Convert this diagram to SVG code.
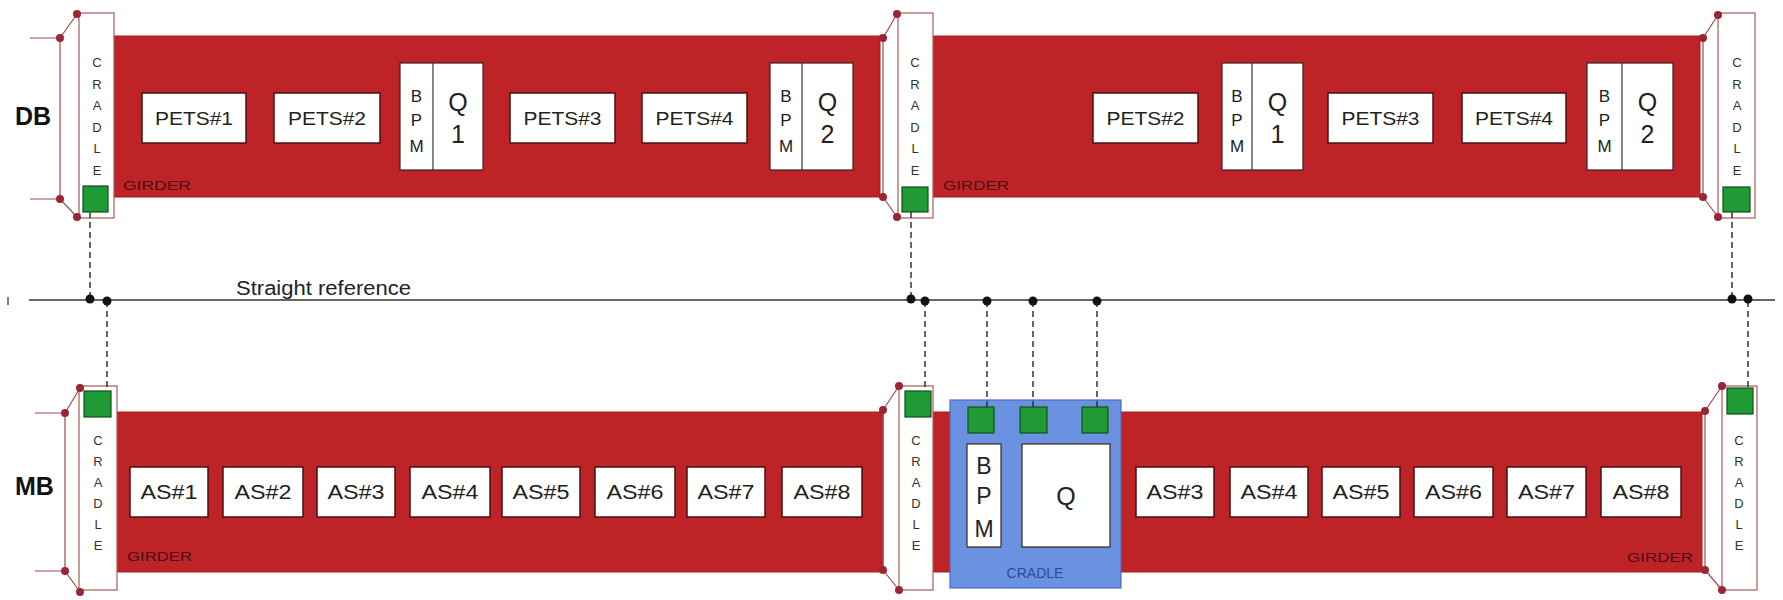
<svg xmlns="http://www.w3.org/2000/svg" width="1783" height="600" viewBox="0 0 1783 600">
<style>
.girder{fill:#be2327;stroke:#a81c20;stroke-width:1}
.cradle{fill:#ffffff;stroke:#a85a5a;stroke-width:1.2}
.box{fill:#ffffff;stroke:#4a1212;stroke-width:1.5}
.bq{fill:#ffffff;stroke:#3a2020;stroke-width:1.2}
.gs{fill:#1f9a35;stroke:#0c5418;stroke-width:1.2}
.sup{fill:none;stroke:#a04a55;stroke-width:1.2}
.dot{fill:#9a2535}
.rdot{fill:#111111}
.dash{fill:none;stroke:#333333;stroke-width:1.5;stroke-dasharray:6 4}
.lbl{font-family:"Liberation Sans",Arial,sans-serif;fill:#222222;text-anchor:middle}
.cl{font-family:"Liberation Sans",Arial,sans-serif;font-size:13px;fill:#333333;text-anchor:middle}
.gt{font-family:"Liberation Sans",Arial,sans-serif;font-size:13px;fill:#4a1010}
.big{font-family:"Liberation Sans",Arial,sans-serif;font-size:25px;font-weight:bold;fill:#111111}
</style>
<rect width="1783" height="600" fill="#ffffff"/>

<!-- Straight reference -->
<g id="reference">
<line x1="29" y1="300" x2="1775" y2="300" stroke="#333" stroke-width="1.6"/>
<line x1="8" y1="297" x2="8" y2="305" stroke="#555" stroke-width="1.5"/>
<text x="236" y="295" class="lbl" style="text-anchor:start;font-size:20px" textLength="175" lengthAdjust="spacingAndGlyphs">Straight reference</text>
</g>

<!-- DB row -->
<g id="db-label"><text x="15" y="125" class="big">DB</text></g>
<g id="mb-label"><text x="15" y="495" class="big">MB</text></g>

<g id="db-girder-1">
<rect class="girder" x="114" y="36" width="766" height="161"/>
<text class="gt" x="123" y="190" textLength="68" lengthAdjust="spacingAndGlyphs">GIRDER</text>
</g>
<g id="db-girder-2">
<rect class="girder" x="933" y="36" width="767" height="161"/>
<text class="gt" x="943" y="190" textLength="66" lengthAdjust="spacingAndGlyphs">GIRDER</text>
</g>

<g id="db-cradle-left">
<path class="sup" d="M30 38H60L77 14M60 38V199M30 199H60L77 217"/>
<rect class="cradle" x="79" y="13" width="35" height="205"/>
<rect class="gs" x="83" y="186" width="25" height="26"/>
<circle class="dot" cx="60" cy="38" r="4"/><circle class="dot" cx="77" cy="14" r="4"/>
<circle class="dot" cx="60" cy="199" r="4"/><circle class="dot" cx="77" cy="217" r="4"/>
<text class="cl" x="97" y="67">C</text><text class="cl" x="97" y="88.5">R</text><text class="cl" x="97" y="110">A</text><text class="cl" x="97" y="131.5">D</text><text class="cl" x="97" y="153">L</text><text class="cl" x="97" y="175">E</text>
</g>
<g id="db-cradle-mid">
<path class="sup" d="M883 38L897 14M883 38V197M883 197L897 217"/>
<rect class="cradle" x="898" y="13" width="35" height="205"/>
<rect class="gs" x="902" y="187" width="26" height="25"/>
<circle class="dot" cx="883" cy="38" r="4"/><circle class="dot" cx="897" cy="14" r="4"/>
<circle class="dot" cx="883" cy="197" r="4"/><circle class="dot" cx="897" cy="217" r="4"/>
<text class="cl" x="915" y="67">C</text><text class="cl" x="915" y="88.5">R</text><text class="cl" x="915" y="110">A</text><text class="cl" x="915" y="131.5">D</text><text class="cl" x="915" y="153">L</text><text class="cl" x="915" y="175">E</text>
</g>
<g id="db-cradle-right">
<path class="sup" d="M1703 38L1718 15M1703 38V197M1703 197L1718 217"/>
<rect class="cradle" x="1718" y="13" width="37" height="205"/>
<rect class="gs" x="1723" y="187" width="27" height="25"/>
<circle class="dot" cx="1703" cy="38" r="4"/><circle class="dot" cx="1718" cy="15" r="4"/>
<circle class="dot" cx="1703" cy="197" r="4"/><circle class="dot" cx="1718" cy="217" r="4"/>
<text class="cl" x="1737" y="67">C</text><text class="cl" x="1737" y="88.5">R</text><text class="cl" x="1737" y="110">A</text><text class="cl" x="1737" y="131.5">D</text><text class="cl" x="1737" y="153">L</text><text class="cl" x="1737" y="175">E</text>
</g>

<g id="db-pets1"><rect class="box" x="142" y="93" width="104" height="50"/><text class="lbl" x="194" y="125" style="font-size:19px" textLength="78" lengthAdjust="spacingAndGlyphs">PETS#1</text></g>
<g id="db-pets2a"><rect class="box" x="274" y="93" width="106" height="50"/><text class="lbl" x="327" y="125" style="font-size:19px" textLength="78" lengthAdjust="spacingAndGlyphs">PETS#2</text></g>
<g id="db-bpmq1a"><rect class="bq" x="400" y="63" width="83" height="107"/><line x1="433" y1="63" x2="433" y2="170" stroke="#333" stroke-width="1.2"/>
<text class="lbl" x="416.5" y="102" style="font-size:17px">B</text><text class="lbl" x="416.5" y="126" style="font-size:17px">P</text><text class="lbl" x="416.5" y="152" style="font-size:17px">M</text>
<text class="lbl" x="458" y="111" style="font-size:25px">Q</text><text class="lbl" x="458" y="143" style="font-size:25px">1</text></g>
<g id="db-pets3a"><rect class="box" x="510" y="93" width="105" height="50"/><text class="lbl" x="562.5" y="125" style="font-size:19px" textLength="78" lengthAdjust="spacingAndGlyphs">PETS#3</text></g>
<g id="db-pets4a"><rect class="box" x="642" y="93" width="105" height="50"/><text class="lbl" x="694.5" y="125" style="font-size:19px" textLength="78" lengthAdjust="spacingAndGlyphs">PETS#4</text></g>
<g id="db-bpmq2a"><rect class="bq" x="770" y="63" width="83" height="107"/><line x1="802" y1="63" x2="802" y2="170" stroke="#333" stroke-width="1.2"/>
<text class="lbl" x="786" y="102" style="font-size:17px">B</text><text class="lbl" x="786" y="126" style="font-size:17px">P</text><text class="lbl" x="786" y="152" style="font-size:17px">M</text>
<text class="lbl" x="827.5" y="111" style="font-size:25px">Q</text><text class="lbl" x="827.5" y="143" style="font-size:25px">2</text></g>

<g id="db-pets2b"><rect class="box" x="1093" y="93" width="105" height="50"/><text class="lbl" x="1145.5" y="125" style="font-size:19px" textLength="78" lengthAdjust="spacingAndGlyphs">PETS#2</text></g>
<g id="db-bpmq1b"><rect class="bq" x="1222" y="63" width="81" height="107"/><line x1="1252" y1="63" x2="1252" y2="170" stroke="#333" stroke-width="1.2"/>
<text class="lbl" x="1237" y="102" style="font-size:17px">B</text><text class="lbl" x="1237" y="126" style="font-size:17px">P</text><text class="lbl" x="1237" y="152" style="font-size:17px">M</text>
<text class="lbl" x="1277.5" y="111" style="font-size:25px">Q</text><text class="lbl" x="1277.5" y="143" style="font-size:25px">1</text></g>
<g id="db-pets3b"><rect class="box" x="1328" y="93" width="105" height="50"/><text class="lbl" x="1380.5" y="125" style="font-size:19px" textLength="78" lengthAdjust="spacingAndGlyphs">PETS#3</text></g>
<g id="db-pets4b"><rect class="box" x="1462" y="93" width="104" height="50"/><text class="lbl" x="1514" y="125" style="font-size:19px" textLength="78" lengthAdjust="spacingAndGlyphs">PETS#4</text></g>
<g id="db-bpmq2b"><rect class="bq" x="1587" y="63" width="86" height="107"/><line x1="1622" y1="63" x2="1622" y2="170" stroke="#333" stroke-width="1.2"/>
<text class="lbl" x="1604.5" y="102" style="font-size:17px">B</text><text class="lbl" x="1604.5" y="126" style="font-size:17px">P</text><text class="lbl" x="1604.5" y="152" style="font-size:17px">M</text>
<text class="lbl" x="1647.5" y="111" style="font-size:25px">Q</text><text class="lbl" x="1647.5" y="143" style="font-size:25px">2</text></g>

<!-- MB row -->
<g id="mb-girder-1">
<rect class="girder" x="117" y="412" width="766" height="160"/>
<text class="gt" x="127" y="561" textLength="65" lengthAdjust="spacingAndGlyphs">GIRDER</text>
</g>
<g id="mb-girder-2">
<rect class="girder" x="933" y="412" width="769" height="160"/>
<text class="gt" x="1627" y="562" textLength="66" lengthAdjust="spacingAndGlyphs">GIRDER</text>
</g>

<g id="mb-cradle-left">
<path class="sup" d="M35 413H65L80 388M65 413V571M35 571H65L80 592"/>
<rect class="cradle" x="79" y="386" width="38" height="204"/>
<rect class="gs" x="84" y="391" width="27" height="26"/>
<circle class="dot" cx="65" cy="413" r="4"/><circle class="dot" cx="80" cy="388" r="4"/>
<circle class="dot" cx="65" cy="571" r="4"/><circle class="dot" cx="80" cy="592" r="4"/>
<text class="cl" x="98" y="445">C</text><text class="cl" x="98" y="466">R</text><text class="cl" x="98" y="487">A</text><text class="cl" x="98" y="508">D</text><text class="cl" x="98" y="529">L</text><text class="cl" x="98" y="550">E</text>
</g>
<g id="mb-cradle-mid">
<path class="sup" d="M883 410L899 386M883 410V570M883 570L899 590"/>
<rect class="cradle" x="899" y="386" width="34" height="204"/>
<rect class="gs" x="905" y="391" width="26" height="26"/>
<circle class="dot" cx="883" cy="410" r="4"/><circle class="dot" cx="899" cy="386" r="4"/>
<circle class="dot" cx="883" cy="570" r="4"/><circle class="dot" cx="899" cy="590" r="4"/>
<text class="cl" x="916" y="445">C</text><text class="cl" x="916" y="466">R</text><text class="cl" x="916" y="487">A</text><text class="cl" x="916" y="508">D</text><text class="cl" x="916" y="529">L</text><text class="cl" x="916" y="550">E</text>
</g>
<g id="mb-cradle-right">
<path class="sup" d="M1705 411L1722 386M1705 411V570M1705 570L1722 590"/>
<rect class="cradle" x="1722" y="386" width="35" height="204"/>
<rect class="gs" x="1727" y="388" width="26" height="26"/>
<circle class="dot" cx="1705" cy="411" r="4"/><circle class="dot" cx="1722" cy="386" r="4"/>
<circle class="dot" cx="1705" cy="570" r="4"/><circle class="dot" cx="1722" cy="590" r="4"/>
<text class="cl" x="1739" y="445">C</text><text class="cl" x="1739" y="466">R</text><text class="cl" x="1739" y="487">A</text><text class="cl" x="1739" y="508">D</text><text class="cl" x="1739" y="529">L</text><text class="cl" x="1739" y="550">E</text>
</g>

<g id="mb-blue-cradle">
<rect x="950" y="400" width="171" height="188" fill="#6a92e0" stroke="#4a6cc4" stroke-width="1.2"/>
<rect class="gs" x="968" y="407" width="26" height="26"/>
<rect class="gs" x="1020" y="407" width="27" height="26"/>
<rect class="gs" x="1082" y="407" width="26" height="26"/>
<rect class="bq" x="967" y="444" width="34" height="103"/>
<rect class="bq" x="1022" y="444" width="88" height="103"/>
<text class="lbl" x="984" y="474" style="font-size:23px">B</text><text class="lbl" x="984" y="504" style="font-size:23px">P</text><text class="lbl" x="984" y="537" style="font-size:23px">M</text>
<text class="lbl" x="1066" y="505" style="font-size:25px">Q</text>
<text x="1035" y="578" style="font-family:'Liberation Sans',Arial,sans-serif;font-size:14px;fill:#2a4a9c;text-anchor:middle">CRADLE</text>
</g>

<g id="mb-as1"><rect class="box" x="130" y="467" width="78" height="50"/><text class="lbl" x="169" y="499" style="font-size:20px" textLength="57" lengthAdjust="spacingAndGlyphs">AS#1</text></g>
<g id="mb-as2"><rect class="box" x="223" y="467" width="80" height="50"/><text class="lbl" x="263" y="499" style="font-size:20px" textLength="57" lengthAdjust="spacingAndGlyphs">AS#2</text></g>
<g id="mb-as3a"><rect class="box" x="317" y="467" width="78" height="50"/><text class="lbl" x="356" y="499" style="font-size:20px" textLength="57" lengthAdjust="spacingAndGlyphs">AS#3</text></g>
<g id="mb-as4a"><rect class="box" x="410" y="467" width="80" height="50"/><text class="lbl" x="450" y="499" style="font-size:20px" textLength="57" lengthAdjust="spacingAndGlyphs">AS#4</text></g>
<g id="mb-as5a"><rect class="box" x="502" y="467" width="78" height="50"/><text class="lbl" x="541" y="499" style="font-size:20px" textLength="57" lengthAdjust="spacingAndGlyphs">AS#5</text></g>
<g id="mb-as6a"><rect class="box" x="595" y="467" width="80" height="50"/><text class="lbl" x="635" y="499" style="font-size:20px" textLength="57" lengthAdjust="spacingAndGlyphs">AS#6</text></g>
<g id="mb-as7a"><rect class="box" x="687" y="467" width="78" height="50"/><text class="lbl" x="726" y="499" style="font-size:20px" textLength="57" lengthAdjust="spacingAndGlyphs">AS#7</text></g>
<g id="mb-as8a"><rect class="box" x="782" y="467" width="80" height="50"/><text class="lbl" x="822" y="499" style="font-size:20px" textLength="57" lengthAdjust="spacingAndGlyphs">AS#8</text></g>

<g id="mb-as3b"><rect class="box" x="1136" y="467" width="78" height="50"/><text class="lbl" x="1175" y="499" style="font-size:20px" textLength="57" lengthAdjust="spacingAndGlyphs">AS#3</text></g>
<g id="mb-as4b"><rect class="box" x="1230" y="467" width="78" height="50"/><text class="lbl" x="1269" y="499" style="font-size:20px" textLength="57" lengthAdjust="spacingAndGlyphs">AS#4</text></g>
<g id="mb-as5b"><rect class="box" x="1322" y="467" width="78" height="50"/><text class="lbl" x="1361" y="499" style="font-size:20px" textLength="57" lengthAdjust="spacingAndGlyphs">AS#5</text></g>
<g id="mb-as6b"><rect class="box" x="1414" y="467" width="79" height="50"/><text class="lbl" x="1453.5" y="499" style="font-size:20px" textLength="57" lengthAdjust="spacingAndGlyphs">AS#6</text></g>
<g id="mb-as7b"><rect class="box" x="1507" y="467" width="79" height="50"/><text class="lbl" x="1546.5" y="499" style="font-size:20px" textLength="57" lengthAdjust="spacingAndGlyphs">AS#7</text></g>
<g id="mb-as8b"><rect class="box" x="1601" y="467" width="80" height="50"/><text class="lbl" x="1641" y="499" style="font-size:20px" textLength="57" lengthAdjust="spacingAndGlyphs">AS#8</text></g>

<!-- connectors -->
<g id="connectors">
<path class="dash" d="M90 212V299M107 301V391M911 212V299M925 301V391M987 301V407M1033 301V407M1097 301V407M1732 212V299M1748 301V388"/>
<circle class="rdot" cx="90" cy="299" r="4.5"/><circle class="rdot" cx="107" cy="301" r="4.5"/>
<circle class="rdot" cx="911" cy="299" r="4.5"/><circle class="rdot" cx="925" cy="301" r="4.5"/>
<circle class="rdot" cx="987" cy="301" r="4.5"/><circle class="rdot" cx="1033" cy="301" r="4.5"/><circle class="rdot" cx="1097" cy="301" r="4.5"/>
<circle class="rdot" cx="1732" cy="299" r="4.5"/><circle class="rdot" cx="1748" cy="299" r="4.5"/>
</g>
</svg>
